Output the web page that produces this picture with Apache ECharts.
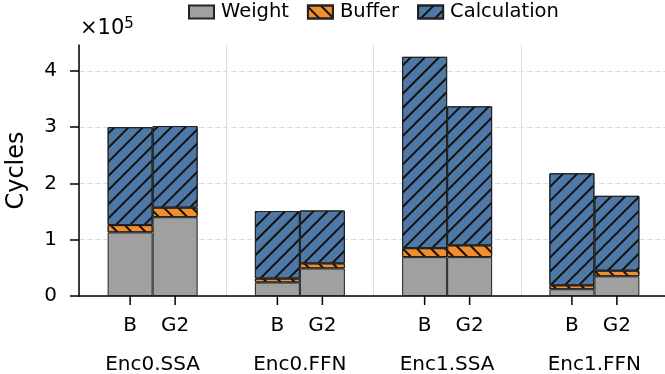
<!DOCTYPE html>
<html><head><meta charset="utf-8">
<script src="https://cdn.jsdelivr.net/npm/echarts@6/dist/echarts.min.js"></script>
<style>html,body{margin:0;padding:0;background:#fff}#c{width:665px;height:374px}</style>
</head><body><div id="c"></div>
<script>
// Data (units of 1e5 cycles)
const groups = ['Enc0.SSA', 'Enc0.FFN', 'Enc1.SSA', 'Enc1.FFN'];
const variants = ['B', 'G2'];
const weightB = [1.13, 0.24, 0.69, 0.12];
const bufferB = [0.13, 0.07, 0.16, 0.07];
const calcB   = [1.74, 1.20, 3.40, 1.99];
const weightG2 = [1.40, 0.49, 0.69, 0.35];
const bufferG2 = [0.17, 0.09, 0.21, 0.10];
const calcG2   = [1.45, 0.94, 2.47, 1.33];
const yTicks = [0, 1, 2, 3, 4];

const FONT = 'DejaVu Sans';
const colors = { Weight: '#a0a0a0', Buffer: '#f28e2b', Calculation: '#4e79a7' };
const decals = {
  Buffer: { symbol: 'rect', symbolSize: 1, dashArrayX: [1, 0], dashArrayY: [1.1, 8], rotation: Math.PI / 4, color: '#111' },
  Calculation: { symbol: 'rect', symbolSize: 1, dashArrayX: [1, 0], dashArrayY: [1.1, 8], rotation: -Math.PI / 4, color: '#111' }
};

function mk(name, stack, data, variant) {
  const itemStyle = { color: colors[name], borderColor: '#222', borderWidth: 1 };
  if (decals[name]) itemStyle.decal = decals[name];
  const s = {
    name: name, type: 'bar', stack: stack, data: data,
    barWidth: 45, barGap: '0%',
    itemStyle: itemStyle,
    emphasis: { disabled: true }
  };
  if (variant) {
    s.label = {
      show: true, position: 'bottom', distance: 0,
      formatter: () => '{t|}\n{n|' + variant + '}',
      rich: {
        t: { width: 1.5, height: 9, backgroundColor: '#000', lineHeight: 9 },
        n: { fontFamily: FONT, fontSize: 20, color: '#000', lineHeight: 22, padding: [20, 0, 0, 0] }
      }
    };
  }
  return s;
}

const chart = echarts.init(document.getElementById('c'), null, { renderer: 'canvas' });
chart.setOption({
  animation: false,
  textStyle: { fontFamily: FONT },
  legend: {
    data: ['Weight', 'Buffer', 'Calculation'],
    left: 188, top: 2, padding: 0, itemWidth: 25, itemHeight: 13, itemGap: 18,
    icon: 'rect',
    textStyle: { fontFamily: FONT, fontSize: 19.5, color: '#000', padding: [0, 0, 0, 2] }
  },
  grid: { left: 79, right: -3, top: 45, bottom: 78, outerBoundsMode: 'none', containLabel: false },
  xAxis: {
    type: 'category', data: groups,
    axisLine: { lineStyle: { color: '#000', width: 1.5 } },
    axisTick: { show: false },
    axisLabel: { margin: 59, fontFamily: FONT, fontSize: 20, color: '#000' },
    splitLine: { show: true, lineStyle: { color: '#dddddd', width: 1 } }
  },
  yAxis: {
    type: 'value', min: 0, max: 4.46, interval: 1,
    name: 'Cycles', nameLocation: 'middle', nameGap: 50, nameRotate: 90,
    nameTextStyle: { fontFamily: FONT, fontSize: 24, color: '#000' },
    axisLine: { show: true, lineStyle: { color: '#000', width: 1.5 } },
    axisTick: { show: true, length: 9, lineStyle: { color: '#000', width: 1.5 }, customValues: yTicks },
    axisLabel: { margin: 22, fontFamily: FONT, fontSize: 20, color: '#000', customValues: yTicks },
    splitLine: { show: true, lineStyle: { color: '#dddddd', type: [5, 3], width: 1 } }
  },
  graphic: [{
    type: 'text', left: 80, top: 17,
    style: { text: '×10{s|5}', fontFamily: FONT, fontSize: 21, fill: '#000',
      rich: { s: { fontFamily: FONT, fontSize: 15, verticalAlign: 'top', padding: [0, 0, 9, 0] } } }
  }],
  series: [
    mk('Weight', 'B', weightB, variants[0]),
    mk('Buffer', 'B', bufferB),
    mk('Calculation', 'B', calcB),
    mk('Weight', 'G2', weightG2, variants[1]),
    mk('Buffer', 'G2', bufferG2),
    mk('Calculation', 'G2', calcG2)
  ]
});
</script></body></html>
